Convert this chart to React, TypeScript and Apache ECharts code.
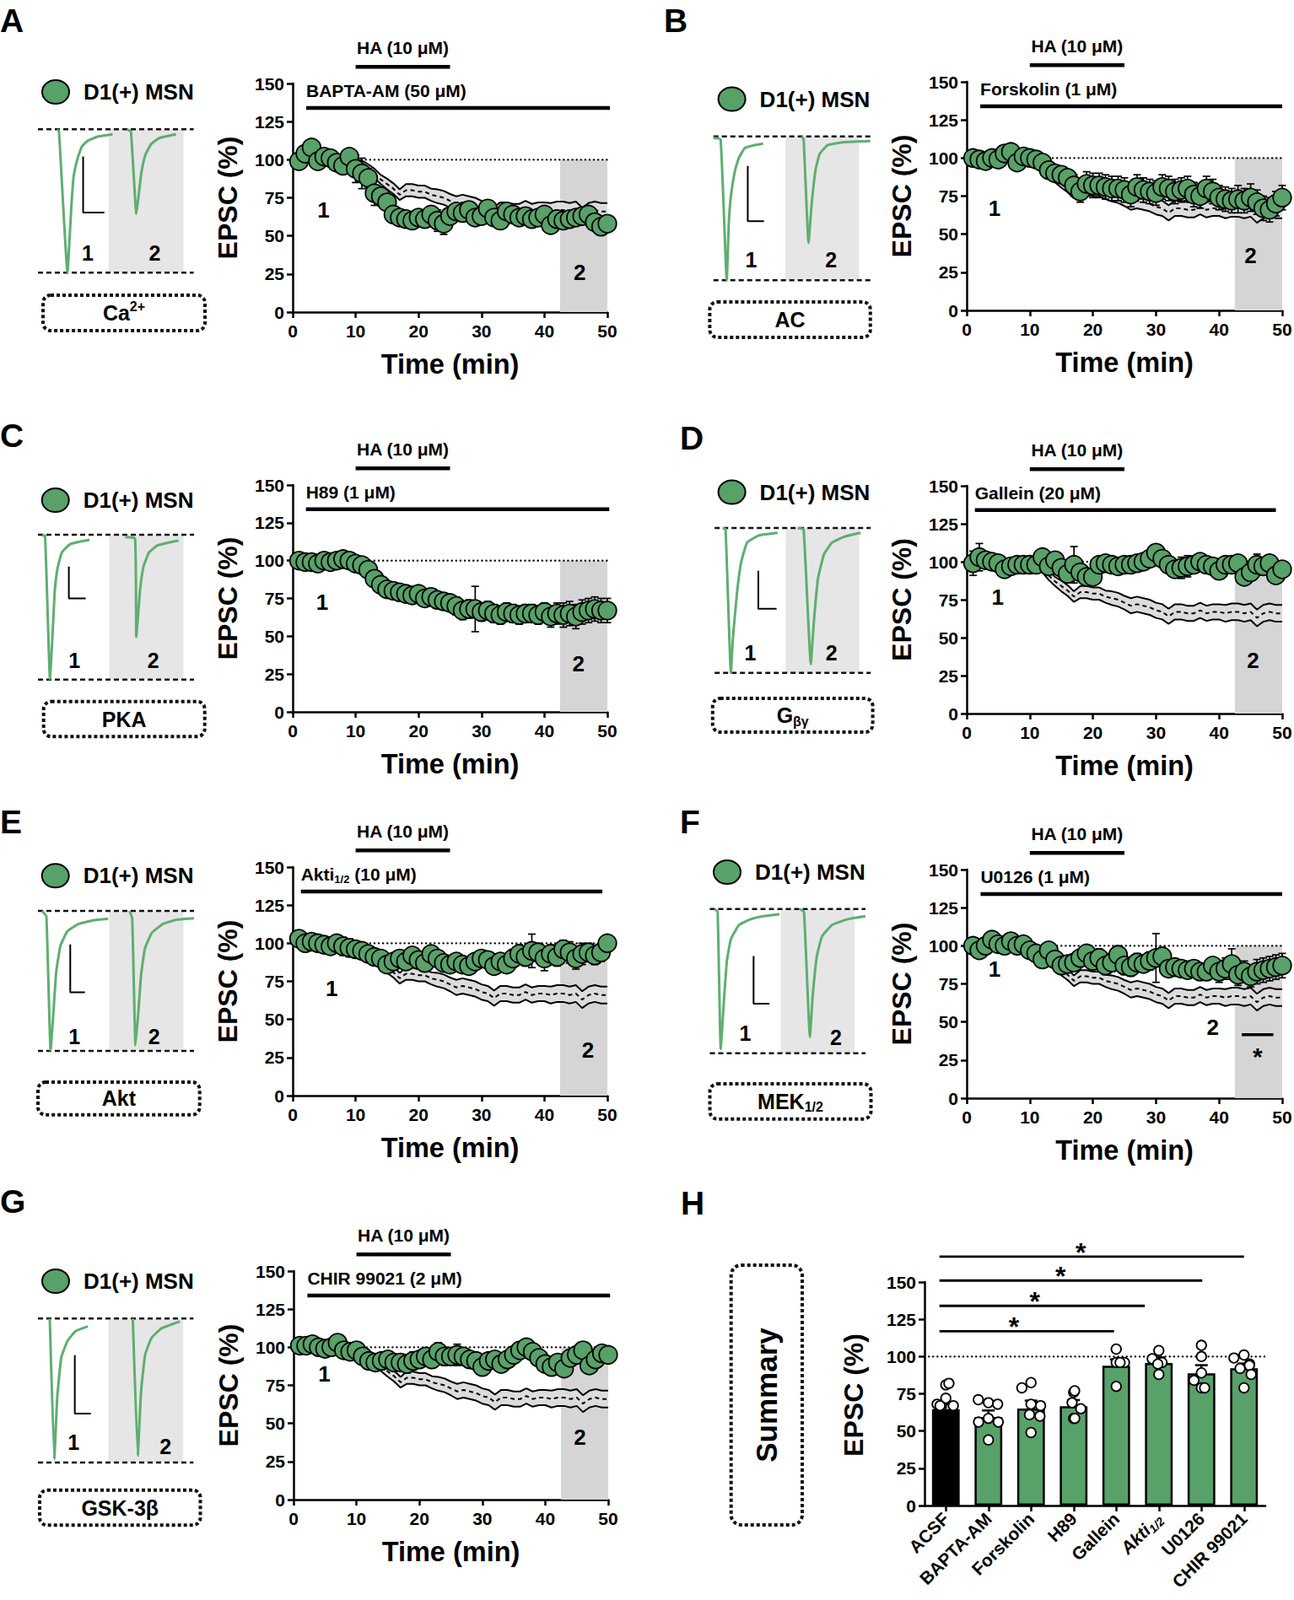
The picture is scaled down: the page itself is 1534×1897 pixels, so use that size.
import React, { useEffect, useRef } from "react";
import * as echarts from "echarts";

const FONT = "'Liberation Sans', Arial, Helvetica, sans-serif";
const LETTER_FONT = "'Liberation Sans', Arial, sans-serif";
const GREEN = "#58a168";
const TRACE_GREEN = "#5fae70";

// ---------------- time-course data ----------------
const minutes = [1,2,3,4,5,6,7,8,9,10,11,12,13,14,15,16,17,18,19,20,21,22,23,24,25,26,27,28,29,30,31,32,33,34,35,36,37,38,39,40,41,42,43,44,45,46,47,48,49,50];
const ctrlMinutes = [10,11,12,13,14,15,16,17,18,19,20,21,22,23,24,25,26,27,28,29,30,31,32,33,34,35,36,37,38,39,40,41,42,43,44,45,46,47,48,49,50];
const ctrlMean = [99,98,95,91,87,84,81,77,80,80,79,79,77,76,75,73,71,72,71,70,68,67,64,67,67,66,66,68,66,67,67,66,67,67,66,67,63,66,67,66,66];
const ctrlSem = [1,1.5,2,3,3,3.5,3.5,3.5,4,4,4,4,4,4.5,4.5,4.5,5,5,5,5,5,5,5,5,5,5,5,5,5,5,5,5.5,5.5,5.5,5.5,5.5,5.5,5.5,5.5,5.5,5.5];

const epscBapta = [99,104,108,99,102,101,98,96,102,94, 91,88,78,76,72,64,62,61,60,62, 61,64,60,58,63,66,65,67,62,63, 68,62,60,66,64,62,63,61,62,64, 57,61,60,61,62,63,64,59,56,58];
const semBapta = [3,4,4,3,3,3,3,3,3,9, 10,6,8,6,5,4,4,5,5,4, 4,5,7,7,4,4,4,4,4,4, 4,5,4,4,4,4,4,4,4,4, 4,4,4,4,4,4,4,4,4,4];
const epscForskolin = [100,99,98,100,99,103,104,97,101,100, 99,97,92,90,89,87,82,78,83,82, 82,81,80,80,79,76,81,79,78,77, 81,80,78,79,80,76,75,80,78,74, 73,72,73,72,74,71,67,66,70,74];
const semForskolin = [2,2,2,2,2,2,2,2,2,2, 2,2,4,4,4,5,7,7,8,8, 8,8,8,8,8,8,8,8,8,8, 8,8,8,8,8,8,8,8,8,8, 8,8,9,8,9,8,8,8,8,8];
const epscH89 = [100,99,99,98,100,99,100,101,100,98, 97,94,88,84,81,80,79,78,77,78, 75,76,74,73,72,70,67,68,68,66, 67,65,64,66,65,64,65,65,64,66, 63,65,64,65,63,66,67,68,67,67];
const semH89 = [2,2,2,2,2,2,2,2,2,3, 3,4,5,5,5,5,5,5,5,5, 5,5,5,5,5,6,6,6,15,6, 6,6,6,6,6,6,6,6,6,6, 7,7,8,8,8,8,8,8,8,8];
const epscGallein = [99,103,101,100,99,95,97,98,98,98, 98,103,97,101,96,92,98,93,90,90, 98,99,98,97,98,98,99,100,102,106, 102,98,95,96,97,98,100,98,97,94, 98,98,99,90,93,98,97,99,91,95];
const semGallein = [8,9,3,3,3,3,3,3,3,3, 3,3,3,3,4,5,12,5,5,4, 3,3,3,3,3,3,3,3,3,3, 3,3,4,7,7,4,4,3,3,3, 3,3,3,5,5,7,5,3,3,3];
const epscAkti = [103,100,101,100,99,98,100,98,97,96, 95,93,91,90,86,88,90,88,92,89, 87,93,90,87,86,88,86,85,88,90, 89,85,88,86,90,93,91,95,94,90, 93,91,96,94,90,93,94,92,94,100];
const semAkti = [3,3,3,3,3,3,3,6,6,5, 5,5,5,5,5,5,5,5,5,5, 5,5,5,5,5,5,5,5,5,5, 5,5,5,5,6,6,6,11,6,8, 6,6,6,7,7,7,6,6,6,4];
const epscU0126 = [100,97,100,104,101,100,103,100,101,97, 95,91,97,91,87,88,89,92,95,90, 92,87,89,94,87,86,89,88,90,92, 93,85,86,85,84,85,83,83,87,83, 85,88,81,83,80,83,84,85,86,87];
const semU0126 = [3,3,3,3,3,3,3,3,3,4, 5,5,5,5,5,5,5,5,5,5, 6,6,6,6,6,6,6,5,6,16, 6,5,5,5,5,5,5,5,5,7, 7,10,7,7,7,8,8,8,8,8];
const epscChir = [101,101,102,100,99,100,103,98,97,98, 94,91,90,91,92,90,90,89,91,92, 94,92,97,94,94,95,94,92,91,87, 91,92,89,92,95,98,100,97,93,89, 87,90,86,93,95,98,88,92,96,95];
const semChir = [3,3,3,3,3,3,3,3,3,3, 3,3,3,3,3,3,4,6,6,5, 4,5,6,6,5,7,5,4,4,4, 4,4,4,4,4,4,5,5,4,4, 4,4,4,5,5,4,4,4,4,4];

const haWindow = [10, 25];
const haLevel = 161;
const drugLevel = 134;
const shadeWindow = [42.5, 50];
const shadeTop = 100;
const uSigWindow = [43.6, 48.6];
const uSigLevel = 41.7;

// ---------------- example EPSC traces (normalized time, % of peak) ----------------
const traceA1 = [[12.4,0],[13.5,-1.5],[19,-100],[20.3,-76],[21.6,-51],[22.9,-33],[25.5,-20],[28.2,-12],[32,-8],[38.7,-5],[47.9,-3.5]];
const traceA2 = [[57.1,0],[59.7,-1.5],[63.2,-59],[65,-43],[66.3,-31],[68.9,-18],[72.9,-10],[78.2,-6],[88.7,-3.5]];
const scaleA = [[29,-19],[29,-58],[42.6,-58]];
const grayA = [45.3, 93.5];
const traceB1 = [[0,-1],[4.6,-2],[8.5,-100],[9.8,-61],[11.1,-42],[13.7,-24],[16.2,-15],[20.1,-8],[26.5,-6],[31.7,-5]];
const traceB2 = [[56.2,0],[57.5,-2],[60.6,-74],[62.6,-47],[65.2,-22.5],[67.8,-12],[72.9,-6],[83.2,-4],[100,-3.3]];
const scaleB = [[21.9,-20.5],[21.9,-59],[32.2,-59]];
const grayB = [45.9, 92.8];
const traceC1 = [[2.7,-0.5],[4.5,-0.6],[7.7,-99.6],[9.5,-65.6],[10.8,-38.4],[12.6,-22.9],[15.3,-12.2],[20.7,-6.4],[27.9,-4.5],[33,-3.5]];
const traceC2 = [[55.9,-1.6],[62.2,-2.5],[63,-70.5],[64,-58],[65.4,-38.4],[67.6,-22],[71.2,-12.2],[76.6,-7.4],[83.8,-5.4],[90.1,-4.1]];
const scaleC = [[19.8,-22],[19.8,-44],[30.6,-44]];
const grayC = [45.6, 93.2];
const traceD1 = [[5.2,0],[7,-1],[10.4,-100],[11.7,-76],[14.3,-45],[16.9,-24],[20.8,-10],[28.6,-5],[40.3,-3.3]];
const traceD2 = [[53.2,0],[57,-1],[61.6,-94],[63.6,-64.5],[66.2,-35],[70.1,-18],[75.3,-10],[83.1,-6],[93.5,-3.3]];
const scaleD = [[28,-29.5],[28,-55.7],[39.7,-55.7]];
const grayD = [45.5, 92.7];
const traceE1 = [[2.7,0],[5.4,-4],[8.1,-99.6],[9.9,-72.6],[11.7,-43.6],[14.4,-24.9],[18.9,-14.5],[26.1,-9.3],[35.1,-6.8],[45,-5.6]];
const traceE2 = [[58.6,0],[60.4,-5.2],[62.5,-95.9],[64.3,-72.6],[66.1,-45.6],[68.5,-27],[73,-15.6],[80.2,-9.3],[89.2,-6.2],[100,-5.2]];
const scaleE = [[20.7,-23.9],[20.7,-58.1],[30.1,-58.1]];
const grayE = [45.6, 93.2];
const traceF1 = [[3.1,0],[5,-2],[7,-97],[8.9,-66],[10.9,-36.5],[13.5,-21],[18.8,-11],[26.6,-7],[34.4,-5],[44.8,-3.7]];
const traceF2 = [[57.8,0],[60.5,-2],[64.3,-88.7],[66.1,-60],[68.8,-32.5],[72.1,-19],[78.6,-11],[89,-7],[100,-5]];
const scaleF = [[28.1,-32.6],[28.1,-65.7],[38.3,-65.7]];
const grayF = [45.6, 93];
const traceG1 = [[7.6,0],[10.5,-97.7],[12.4,-54.7],[15,-27],[19,-15.6],[24.2,-8.8],[32.1,-5.5]];
const traceG2 = [[61,0],[64.2,-95.3],[66.3,-50.8],[68.9,-25.4],[72.9,-13.7],[79.5,-6.8],[91.3,-2]];
const scaleG = [[23.7,-25.4],[23.7,-66],[34,-66]];
const grayG = [45.3, 93.4];

// ---------------- summary (H) ----------------
const summaryCats = ["ACSF", "BAPTA-AM", "Forskolin", "H89", "Gallein", "Akti1/2", "U0126", "CHIR 99021"];
const summaryMean = [64.7, 59.4, 65.1, 66.6, 93.8, 95.7, 88.7, 92.1];
const summarySem = [3.2, 4.4, 5.3, 4.2, 4.3, 3.7, 5.5, 3.2];
const cellsACSF = [81, 82, 72, 68, 67, 67];
const cellsBapta = [69, 68, 71, 58.5, 56, 56, 44];
const cellsForskolin = [82.5, 79, 68, 67, 61, 60, 49];
const cellsH89 = [76, 77, 69, 65, 58.5, 58.5];
const cellsGallein = [105, 96, 96, 96, 80];
const cellsAkti = [104, 98.5, 96, 95, 88];
const cellsU0126 = [107.5, 100, 89, 84, 79, 79];
const cellsChir = [101, 99, 95, 94, 92, 88, 79];
const summaryCells = [cellsACSF, cellsBapta, cellsForskolin, cellsH89, cellsGallein, cellsAkti, cellsU0126, cellsChir];
const sigFrom = -0.15;
const sigTo = [3.95, 4.67, 6.02, 7.0];
const sigLevel = [117, 134, 151, 167];
const sigStarX = [1.6, 2.09, 2.69, 3.17];

// ---------------- layout ----------------
const panels: any[] = [
  { letter: "A", letterPos: [0, 24], legend: [66, 109], trace: { left: 45, top: 153.3, width: 184.6, height: 170 },
    box: { x: 51, y: 350, w: 192, h: 42 }, boxText: "{m|Ca}{sup|2+}", plot: { left: 347, top: 99, width: 373, height: 271 },
    values: epscBapta, sems: semBapta, drug: "BAPTA-AM (50 μM)", drugSpan: [2.15, 50.6], control: true,
    t1: traceA1, t2: traceA2, scale: scaleA, gray: grayA, lab1: [4.9, 66.8], lab2: [45.6, 25.8], tl1: [32, -86], tl2: [75, -86] },
  { letter: "B", letterPos: [787, 24], legend: [867.6, 117.5], trace: { left: 845.7, top: 161.7, width: 186.1, height: 170.6 },
    box: { x: 841.4, y: 358, w: 190.4, h: 42 }, boxText: "{m|AC}", plot: { left: 1146, top: 97, width: 374, height: 271 },
    values: epscForskolin, sems: semForskolin, drug: "Forskolin (1 μM)", drugSpan: [2.15, 50], control: true,
    t1: traceB1, t2: traceB2, scale: scaleB, gray: grayB, lab1: [4.4, 67.1], lab2: [45, 35.8], tl1: [24, -86], tl2: [75, -86] },
  { letter: "C", letterPos: [0, 516], legend: [65.7, 593], trace: { left: 45, top: 634, width: 185, height: 171.7 },
    box: { x: 51.7, y: 831.7, w: 191, h: 41.6 }, boxText: "{m|PKA}", plot: { left: 347, top: 575, width: 373, height: 269 },
    values: epscH89, sems: semH89, drug: "H89 (1 μM)", drugSpan: [2.1, 50.3], control: false,
    t1: traceC1, t2: traceC2, scale: scaleC, gray: grayC, lab1: [4.7, 72.6], lab2: [45.4, 32], tl1: [23.4, -87], tl2: [73.9, -87] },
  { letter: "D", letterPos: [806, 519], legend: [867.6, 583.5], trace: { left: 847.2, top: 626, width: 185, height: 171.7 },
    box: { x: 844.8, y: 828, w: 189.8, h: 40 }, boxText: "{m|G}{sub|βγ}", plot: { left: 1146, top: 576, width: 374, height: 270 },
    values: epscGallein, sems: semGallein, drug: "Gallein (20 μM)", drugSpan: [1.3, 49], control: true,
    t1: traceD1, t2: traceD2, scale: scaleD, gray: grayD, lab1: [4.9, 76.5], lab2: [45.4, 34.8], tl1: [22.9, -86], tl2: [74.8, -86] },
  { letter: "E", letterPos: [0, 974], legend: [65.7, 1038.3], trace: { left: 45, top: 1080, width: 185, height: 166 },
    box: { x: 45, y: 1283, w: 191.7, h: 38.7 }, boxText: "{m|Akt}", plot: { left: 347, top: 1028, width: 373, height: 271 },
    values: epscAkti, sems: semAkti, drug: "{b|Akti}{s|1/2}{b| (10 μM)}", drugSpan: [1.3, 49.2], control: true,
    t1: traceE1, t2: traceE2, scale: scaleE, gray: grayE, lab1: [6.2, 70.3], lab2: [46.9, 30], tl1: [23.4, -90], tl2: [74.4, -90] },
  { letter: "F", letterPos: [806, 974], legend: [862, 1034], trace: { left: 841.5, top: 1077.7, width: 184.5, height: 171 },
    box: { x: 841.5, y: 1285, w: 191, h: 41.7 }, boxText: "{m|MEK}{sub|1/2}", plot: { left: 1146, top: 1031, width: 374, height: 271 },
    values: epscU0126, sems: semU0126, drug: "U0126 (1 μM)", drugSpan: [2.2, 50], control: true,
    t1: traceF1, t2: traceF2, scale: scaleF, gray: grayF, lab1: [4.4, 84.5], lab2: [39, 46.3], tl1: [22.7, -86], tl2: [81, -89] },
  { letter: "G", letterPos: [0, 1424], legend: [66, 1519], trace: { left: 45, top: 1563.3, width: 184.3, height: 170.7 },
    box: { x: 47, y: 1766.7, w: 190.5, h: 41.6 }, boxText: "{m|GSK-3β}", plot: { left: 348, top: 1507, width: 373, height: 271 },
    values: epscChir, sems: semChir, drug: "CHIR 99021 (2 μM)", drugSpan: [2.2, 50.3], control: true,
    t1: traceG1, t2: traceG2, scale: scaleG, gray: grayG, lab1: [4.9, 82.3], lab2: [45.5, 41], tl1: [22.9, -86], tl2: [82, -89] },
];

const H_GRID = { left: 1096, top: 1520, width: 404, height: 265 };

function errRender(capHalf: number, upOnly: boolean, lw: number) {
  return (params: any, api: any) => {
    const x = api.value(0), v = api.value(1), s = api.value(2);
    const top = api.coord([x, v + s]);
    const bot = api.coord([x, upOnly ? v : v - s]);
    const style = { stroke: "#000", lineWidth: lw };
    const children: any[] = [
      { type: "line", shape: { x1: top[0], y1: top[1], x2: bot[0], y2: bot[1] }, style },
      { type: "line", shape: { x1: top[0] - capHalf, y1: top[1], x2: top[0] + capHalf, y2: top[1] }, style },
    ];
    if (!upOnly) children.push({ type: "line", shape: { x1: bot[0] - capHalf, y1: bot[1], x2: bot[0] + capHalf, y2: bot[1] }, style });
    return { type: "group", children };
  };
}

function rectRender(fill: string) {
  return (params: any, api: any) => {
    const p0 = api.coord([api.value(0), api.value(3)]);
    const p1 = api.coord([api.value(2), api.value(1)]);
    return { type: "rect", shape: { x: p0[0], y: p0[1], width: p1[0] - p0[0], height: p1[1] - p0[1] }, style: { fill } };
  };
}

function buildOption() {
  const grid: any[] = [];
  const xAxis: any[] = [];
  const yAxis: any[] = [];
  const series: any[] = [];
  const axisLine = { show: true, onZero: false, lineStyle: { color: "#000", width: 2.5 } };
  const axisTick = { show: true, length: 7, inside: false, lineStyle: { color: "#000", width: 2.5 } };
  const lbl = (margin: number) => ({ show: true, color: "#000", fontSize: 21, fontWeight: "bold", fontFamily: FONT, margin, showMinLabel: true, showMaxLabel: true, hideOverlap: false });

  panels.forEach((p, i) => {
    grid.push({ left: p.plot.left, top: p.plot.top, width: p.plot.width, height: p.plot.height, containLabel: false, outerBoundsMode: "none" });
    xAxis.push({ type: "value", gridIndex: i, min: 0, max: 50, interval: 10, axisLine, axisTick, axisLabel: lbl(12), splitLine: { show: false } });
    yAxis.push({ type: "value", gridIndex: i, min: 0, max: 150, interval: 25, axisLine, axisTick, axisLabel: lbl(10), splitLine: { show: false } });
  });
  panels.forEach((p, i) => {
    const gi = 7 + i;
    grid.push({ left: p.trace.left, top: p.trace.top, width: p.trace.width, height: p.trace.height, containLabel: false, outerBoundsMode: "none" });
    xAxis.push({ type: "value", gridIndex: gi, min: 0, max: 100, show: false });
    yAxis.push({ type: "value", gridIndex: gi, min: -100, max: 0, show: false });
  });
  grid.push({ ...H_GRID, containLabel: false, outerBoundsMode: "none" });
  xAxis.push({
    type: "category", gridIndex: 14, data: summaryCats, axisLine, axisTick: { ...axisTick, alignWithLabel: true },
    jitter: 24, jitterOverlap: false, jitterMargin: 1,
    axisLabel: {
      ...lbl(12), fontSize: 21, rotate: 45, interval: 0,
      formatter: (v: string) => (v === "Akti1/2" ? "{it|Akti}{s|1/2}" : v),
      rich: {
        it: { fontSize: 21, fontWeight: "bold", fontStyle: "italic", fontFamily: FONT, color: "#000" },
        s: { fontSize: 14, fontWeight: "bold", fontStyle: "italic", fontFamily: FONT, color: "#000", padding: [12, 0, 0, 0] },
      },
    },
  });
  yAxis.push({ type: "value", gridIndex: 14, min: 0, max: 150, interval: 25, axisLine, axisTick, axisLabel: lbl(10), splitLine: { show: false } });
  xAxis.push({ type: "value", gridIndex: 14, min: -0.5, max: 7.5, show: false });

  panels.forEach((p, i) => {
    const ax = { xAxisIndex: i, yAxisIndex: i };
    series.push({ type: "custom", ...ax, z: 1, silent: true, data: [[shadeWindow[0], 0, shadeWindow[1], shadeTop]], encode: { x: [0, 2], y: [1, 3] }, renderItem: rectRender("#d5d5d5") });
    series.push({ type: "line", ...ax, z: 2, silent: true, symbol: "none", data: [[0, 100], [50, 100]], lineStyle: { color: "#000", width: 2.4, type: [0.1, 5], cap: "round" } });
    if (p.control) {
      series.push({
        type: "custom", ...ax, z: 2, silent: true, data: [[ctrlMinutes[0], ctrlMean[0]]], encode: { x: 0, y: 1 },
        renderItem: (params: any, api: any) => {
          const up = ctrlMinutes.map((t, k) => api.coord([t, ctrlMean[k] + ctrlSem[k]]));
          const lo = ctrlMinutes.map((t, k) => api.coord([t, ctrlMean[k] - ctrlSem[k]])).reverse();
          return { type: "polygon", shape: { points: up.concat(lo) }, style: { fill: "#dcdcdc" } };
        },
      });
      series.push({ type: "line", ...ax, z: 2, silent: true, symbol: "none", data: ctrlMinutes.map((t, k) => [t, ctrlMean[k] + ctrlSem[k]]), lineStyle: { color: "#000", width: 2 } });
      series.push({ type: "line", ...ax, z: 2, silent: true, symbol: "none", data: ctrlMinutes.map((t, k) => [t, ctrlMean[k] - ctrlSem[k]]), lineStyle: { color: "#000", width: 2 } });
      series.push({ type: "line", ...ax, z: 2, silent: true, symbol: "none", data: ctrlMinutes.map((t, k) => [t, ctrlMean[k]]), lineStyle: { color: "#000", width: 2, type: [5, 4] } });
    }
    series.push({ type: "line", ...ax, z: 3, silent: true, clip: false, symbol: "none", data: [[haWindow[0], haLevel], [haWindow[1], haLevel]], lineStyle: { color: "#000", width: 4.5 } });
    series.push({ type: "line", ...ax, z: 3, silent: true, clip: false, symbol: "none", data: [[p.drugSpan[0], drugLevel], [p.drugSpan[1], drugLevel]], lineStyle: { color: "#000", width: 4.5 } });
    if (p.letter === "F") {
      series.push({ type: "line", ...ax, z: 3, silent: true, clip: false, symbol: "none", data: [[uSigWindow[0], uSigLevel], [uSigWindow[1], uSigLevel]], lineStyle: { color: "#000", width: 3.5 } });
    }
    series.push({
      type: "custom", ...ax, z: 3, silent: true, clip: false, encode: { x: 0, y: 1 },
      data: minutes.map((t, k) => [t, p.values[k], p.sems[k]]), renderItem: errRender(4.5, false, 1.7),
    });
    series.push({
      type: "scatter", ...ax, z: 4, silent: true, symbol: "circle", symbolSize: 21.5,
      data: minutes.map((t, k) => [t, p.values[k]]),
      itemStyle: { color: GREEN, borderColor: "#000", borderWidth: 1.8, opacity: 1 },
    });

    // traces
    const tx = { xAxisIndex: 7 + i, yAxisIndex: 7 + i };
    series.push({ type: "custom", ...tx, z: 1, silent: true, data: [[p.gray[0], -100, p.gray[1], 0]], encode: { x: [0, 2], y: [1, 3] }, renderItem: rectRender("#e6e6e6") });
    series.push({ type: "line", ...tx, z: 2, silent: true, clip: false, symbol: "none", data: [[0, 0], [100, 0]], lineStyle: { color: "#111", width: 2.5, type: [6, 4] } });
    series.push({ type: "line", ...tx, z: 2, silent: true, clip: false, symbol: "none", data: [[0, -100], [100, -100]], lineStyle: { color: "#111", width: 2.5, type: [6, 4] } });
    series.push({ type: "line", ...tx, z: 3, silent: true, clip: false, symbol: "none", smooth: 0.12, data: p.t1, lineStyle: { color: TRACE_GREEN, width: 3 } });
    series.push({ type: "line", ...tx, z: 3, silent: true, clip: false, symbol: "none", smooth: 0.12, data: p.t2, lineStyle: { color: TRACE_GREEN, width: 3 } });
    series.push({ type: "line", ...tx, z: 3, silent: true, clip: false, symbol: "none", data: p.scale, lineStyle: { color: "#000", width: 2 } });
  });

  // Summary bar chart
  series.push({ type: "line", xAxisIndex: 15, yAxisIndex: 14, z: 1, silent: true, symbol: "none", data: [[-0.5, 100], [7.5, 100]], lineStyle: { color: "#000", width: 2.4, type: [0.1, 5], cap: "round" } });
  series.push({
    type: "bar", xAxisIndex: 14, yAxisIndex: 14, z: 2, silent: true, barWidth: "65%",
    data: summaryMean.map((v, k) => ({ value: v, itemStyle: { color: k === 0 ? "#000" : GREEN, borderColor: "#000", borderWidth: 2.5 } })),
  });
  series.push({
    type: "custom", xAxisIndex: 14, yAxisIndex: 14, z: 3, silent: true, encode: { x: 0, y: 1 },
    data: summaryMean.map((v, k) => [k, v, summarySem[k]]), renderItem: errRender(7.5, true, 2.5),
  });
  const cellData: any[] = [];
  summaryCells.forEach((arr, k) => arr.forEach((v) => cellData.push([k, v])));
  series.push({
    type: "scatter", xAxisIndex: 14, yAxisIndex: 14, z: 5, silent: true, symbol: "circle", symbolSize: 11.5,
    data: cellData, itemStyle: { color: "#fff", borderColor: "#000", borderWidth: 1.8, opacity: 1 },
  });
  sigTo.forEach((to, k) => {
    series.push({ type: "line", xAxisIndex: 15, yAxisIndex: 14, z: 3, silent: true, clip: false, symbol: "none", data: [[sigFrom, sigLevel[k]], [to, sigLevel[k]]], lineStyle: { color: "#000", width: 2.8 } });
  });

  return {
    animation: false,
    backgroundColor: "#fff",
    textStyle: { fontFamily: FONT },
    grid, xAxis, yAxis, series,
  };
}

function txt(x: number, y: number, text: string, size: number, o: any = {}) {
  const align = o.align || "center";
  const valign = o.valign || "middle";
  const style: any = {
    text, fill: "#000", fontSize: size, fontWeight: o.weight || "bold", fontFamily: o.family || FONT,
    align, verticalAlign: valign, textAlign: align, textVerticalAlign: valign,
  };
  if (o.rich) style.rich = o.rich;
  if (o.lineHeight) style.lineHeight = o.lineHeight;
  return { type: "text", x, y, z: 20, silent: true, rotation: o.rotation || 0, style };
}

function buildGraphic(chart: any) {
  const g: any[] = [];
  const px = (xi: number, yi: number, pt: number[]) => chart.convertToPixel({ xAxisIndex: xi, yAxisIndex: yi }, pt) as number[];
  const boxRich = {
    m: { fontSize: 25, fontWeight: "bold", fontFamily: FONT, fill: "#000" },
    sub: { fontSize: 16, fontWeight: "bold", fontFamily: FONT, fill: "#000", padding: [14, 0, 0, 0] },
    sup: { fontSize: 16, fontWeight: "bold", fontFamily: FONT, fill: "#000", padding: [0, 0, 16, 0] },
  };
  const drugRich = {
    b: { fontSize: 21, fontWeight: "bold", fontFamily: FONT, fill: "#000" },
    s: { fontSize: 13, fontWeight: "bold", fontFamily: FONT, fill: "#000", padding: [12, 0, 0, 0] },
  };

  panels.forEach((p, i) => {
    g.push(txt(p.letterPos[0], p.letterPos[1], p.letter, 39, { align: "left", family: LETTER_FONT }));
    g.push({ type: "ellipse", z: 20, silent: true, shape: { cx: p.legend[0], cy: p.legend[1], rx: 16, ry: 14 }, style: { fill: GREEN, stroke: "#000", lineWidth: 2 } });
    g.push(txt(p.legend[0] + 33, p.legend[1], "D1(+) MSN", 26, { align: "left" }));
    g.push({ type: "rect", z: 20, silent: true, shape: { x: p.box.x, y: p.box.y, width: p.box.w, height: p.box.h, r: 9 }, style: { fill: "none", stroke: "#111", lineWidth: 4, lineDash: [4, 3] } });
    g.push(txt(p.box.x + p.box.w / 2, p.box.y + p.box.h / 2, p.boxText, 25, { rich: boxRich }));
    g.push(txt(p.plot.left - 77, p.plot.top + p.plot.height / 2, "EPSC (%)", 32, { rotation: Math.PI / 2 }));
    g.push(txt(p.plot.left + p.plot.width / 2, p.plot.top + p.plot.height + 62, "Time (min)", 32.5));
    const ha = px(i, i, [(haWindow[0] + haWindow[1]) / 2, haLevel]);
    g.push(txt(ha[0], ha[1] - 23, "HA (10 μM)", 21));
    const dl = px(i, i, [p.drugSpan[0], drugLevel]);
    g.push(txt(dl[0], dl[1] - 20, p.drug, 21, { align: "left", rich: drugRich }));
    const l1 = px(i, i, p.lab1);
    g.push(txt(l1[0], l1[1], "1", 26));
    const l2 = px(i, i, p.lab2);
    g.push(txt(l2[0], l2[1], "2", 26));
    const t1 = px(7 + i, 7 + i, p.tl1);
    g.push(txt(t1[0], t1[1], "1", 25));
    const t2 = px(7 + i, 7 + i, p.tl2);
    g.push(txt(t2[0], t2[1], "2", 25));
    if (p.letter === "F") {
      const st = px(i, i, [(uSigWindow[0] + uSigWindow[1]) / 2, 31.5]);
      g.push(txt(st[0], st[1] + 7, "*", 30));
    }
  });

  // H
  g.push(txt(807, 1426, "H", 39, { align: "left", family: LETTER_FONT }));
  g.push({ type: "rect", z: 20, silent: true, shape: { x: 866.7, y: 1500, width: 84.3, height: 308, r: 12 }, style: { fill: "none", stroke: "#111", lineWidth: 4, lineDash: [4, 3] } });
  g.push(txt(908, 1654, "Summary", 35, { rotation: Math.PI / 2 }));
  g.push(txt(1012, 1654, "EPSC (%)", 32, { rotation: Math.PI / 2 }));
  sigStarX.forEach((sx, k) => {
    const s = px(15, 14, [sx, sigLevel[k]]);
    g.push(txt(s[0], s[1] - 5, "*", 32));
  });
  return g;
}

export default function App() {
  const ref = useRef<HTMLDivElement>(null);
  useEffect(() => {
    const chart = echarts.init(ref.current as HTMLDivElement, null, { renderer: "svg" });
    chart.setOption(buildOption() as any);
    chart.setOption({ graphic: { elements: buildGraphic(chart) } } as any);
    return () => chart.dispose();
  }, []);
  return <div ref={ref} style={{ position: "absolute", left: 0, top: 0, width: 1534, height: 1897, background: "#fff" }} />;
}
